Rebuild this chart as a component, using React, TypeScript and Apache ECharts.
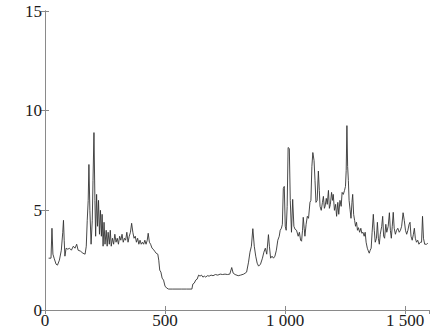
import React, { useEffect, useRef } from "react";
import * as echarts from "echarts";

const xValues = [
  15, 25, 29, 33, 38, 46, 52, 60, 68, 74, 77, 80, 83, 88, 95, 102, 110, 118, 125, 132, 138, 148, 158, 167, 172, 176, 180, 183, 187, 192, 197, 200, 204, 208, 211, 215, 219, 223, 227, 231, 235, 238, 242, 246, 250, 255, 259, 263, 268, 272, 276, 281, 286, 291, 296, 301, 306, 311, 316, 321, 326, 331, 336, 341, 346, 351, 356, 361, 366, 371, 376, 381, 386, 391, 396, 401, 406, 411, 416, 421, 426, 430, 435, 440, 446, 451, 457, 463, 470, 474, 478, 483, 488, 494, 500, 507, 515, 530, 550, 570, 590, 612, 616, 622, 628, 634, 640, 646, 652, 658, 664, 670, 676, 684, 692, 700, 710, 720, 730, 740, 750, 760, 770, 778, 784, 792, 805, 815, 828, 840, 848, 854, 860, 866, 872, 878, 884, 890, 898, 906, 912, 918, 924, 931, 935, 940, 946, 952, 958, 964, 970, 976, 980, 985, 989, 993, 997, 1001, 1005, 1009, 1013, 1018, 1022, 1027, 1032, 1037, 1042, 1048, 1055, 1060, 1065, 1069, 1073, 1076, 1080, 1083, 1088, 1093, 1098, 1104, 1108, 1112, 1116, 1121, 1125, 1129, 1134, 1139, 1143, 1146, 1151, 1156, 1160, 1164, 1167, 1172, 1176, 1181, 1185, 1189, 1194, 1198, 1201, 1206, 1211, 1215, 1220, 1224, 1229, 1234, 1238, 1243, 1248, 1252, 1255, 1258, 1261, 1264, 1267, 1271, 1275, 1279, 1282, 1286, 1290, 1294, 1298, 1302, 1306, 1311, 1316, 1320, 1325, 1330, 1334, 1338, 1343, 1347, 1351, 1355, 1359, 1363, 1368, 1372, 1376, 1381, 1385, 1389, 1393, 1397, 1403, 1407, 1411, 1415, 1420, 1424, 1430, 1435, 1439, 1443, 1447, 1451, 1455, 1460, 1465, 1470, 1476, 1481, 1486, 1492, 1497, 1502, 1507, 1512, 1517, 1521, 1525, 1530, 1535, 1539, 1543, 1548, 1553, 1558, 1564, 1569, 1573, 1577, 1582, 1590, 1595,
];

const yValues = [
  2.6, 2.6, 4.1, 2.8, 2.6, 2.3, 2.25, 2.5, 3.0, 3.9, 4.5, 3.5, 2.7, 3.1, 3.05, 3.1, 3.0, 3.2, 3.1, 3.3, 3.0, 2.95, 2.85, 2.8, 3.2, 4.5, 5.5, 7.3, 5.0, 3.3, 4.5, 6.5, 8.9, 5.5, 3.7, 5.8, 4.2, 5.5, 3.8, 5.0, 3.7, 4.8, 3.2, 4.4, 3.3, 4.0, 3.2, 3.9, 3.3, 4.0, 3.2, 3.6, 3.3, 3.8, 3.4, 3.6, 3.3, 3.7, 3.5, 3.8, 3.4, 3.6, 3.5, 3.9, 3.4, 3.7, 3.9, 4.35, 3.9, 3.6, 3.7, 3.4, 3.6, 3.3, 3.5, 3.3, 3.4, 3.3, 3.5, 3.3, 3.5, 3.85, 3.4, 3.3, 3.1, 3.05, 2.95, 2.85, 2.8, 2.5, 2.0, 1.9, 1.6, 1.5, 1.2, 1.1, 1.05, 1.05, 1.05, 1.05, 1.05, 1.05, 1.3, 1.35, 1.5, 1.55, 1.75, 1.7, 1.75, 1.65, 1.7, 1.65, 1.72, 1.7, 1.75, 1.72, 1.78, 1.75, 1.8, 1.78, 1.8, 1.78, 1.8, 2.13, 1.85, 1.78, 1.72, 1.75, 1.8, 1.9, 2.4, 2.9, 3.2, 4.08, 3.2, 2.7, 2.35, 2.2, 2.3, 2.6, 2.9, 3.1, 2.8, 3.78, 3.2, 2.6, 2.7, 2.6, 2.7, 3.0, 3.5, 3.7, 4.0, 4.1, 4.3, 6.1, 6.2, 4.2, 4.0, 5.2, 8.15, 8.1, 5.5, 3.9, 5.55, 4.2, 4.05, 4.0, 3.7, 3.9, 3.5, 3.45, 4.0, 4.65, 4.1, 3.7, 4.3, 4.7, 4.6, 5.4, 5.5, 7.2, 7.9, 7.5, 6.5, 5.4, 5.5, 6.97, 6.0, 5.2, 5.0, 5.4, 5.7, 5.1, 5.2, 5.6, 5.3, 6.0, 5.1, 5.3, 5.9, 5.5, 5.8, 5.0, 5.3, 4.7, 5.4, 4.8, 5.5, 5.2, 5.9, 5.8, 6.0, 6.2, 7.0, 9.25, 7.2, 6.5, 5.5, 5.05, 4.6, 5.4, 5.8, 4.8, 4.5, 4.2, 4.4, 4.0, 4.13, 3.9, 4.1, 3.85, 3.9, 3.7, 3.9, 3.4, 3.1, 2.97, 2.85, 3.0, 3.1, 3.9, 4.8, 4.0, 3.4, 3.6, 4.4, 3.6, 3.3, 3.8, 4.2, 4.7, 3.7, 3.6, 4.3, 3.9, 4.2, 4.88, 4.0, 3.6, 4.2, 4.9, 4.1, 3.8, 4.0, 4.1, 3.9, 4.0, 4.2, 4.88, 4.5, 4.0, 3.8, 4.0, 4.3, 4.4, 3.7, 3.5, 3.8, 4.1, 3.6, 3.4, 3.5, 3.3, 3.4, 3.4, 4.7, 3.6, 3.3, 3.3, 3.35,
];

const xTickLabels: Record<number, string> = { 0: "0", 500: "500", 1000: "1 000", 1500: "1 500" };

export default function App() {
  const ref = useRef<HTMLDivElement>(null);
  useEffect(() => {
    if (!ref.current) return;
    const chart = echarts.init(ref.current, null, { renderer: "svg" });
    const data = xValues.map((x, i) => [x, yValues[i]]);
    const font = "serif";
    const frame = { show: true, lineStyle: { color: "#8a8a8a", width: 1 } };
    const ticks = { show: true, inside: true, length: 4, lineStyle: { color: "#8a8a8a" } };
    chart.setOption({
      animation: false,
      textStyle: { fontFamily: font },
      grid: { left: 45, right: 6, top: 11, bottom: 18, containLabel: false },
      xAxis: [
        {
          type: "value",
          min: 0,
          max: 1600,
          interval: 500,
          axisLine: frame,
          axisTick: ticks,
          splitLine: { show: false },
          axisLabel: {
            color: "#1a1a1a",
            fontFamily: font,
            fontSize: 17,
            margin: 2,
            showMaxLabel: false,
            formatter: (v: number) => xTickLabels[v] ?? "",
          },
        },
        {
          type: "value",
          position: "top",
          min: 0,
          max: 1600,
          interval: 500,
          axisLine: frame,
          axisTick: ticks,
          splitLine: { show: false },
          axisLabel: { show: false },
        },
      ],
      yAxis: [
        {
          type: "value",
          min: 0,
          max: 15,
          interval: 5,
          axisLine: frame,
          axisTick: ticks,
          splitLine: { show: false },
          axisLabel: {
            color: "#1a1a1a",
            fontFamily: font,
            fontSize: 17,
            margin: 3,
          },
        },
        {
          type: "value",
          position: "right",
          min: 0,
          max: 15,
          interval: 5,
          axisLine: frame,
          axisTick: ticks,
          splitLine: { show: false },
          axisLabel: { show: false },
        },
      ],
      series: [
        {
          type: "line",
          data,
          showSymbol: false,
          symbol: "none",
          lineStyle: { color: "#333333", width: 0.9 },
        },
      ],
    });
    return () => chart.dispose();
  }, []);
  return <div ref={ref} style={{ width: 435, height: 329, position: "absolute", left: 0, top: 0, background: "#fff" }} />;
}
